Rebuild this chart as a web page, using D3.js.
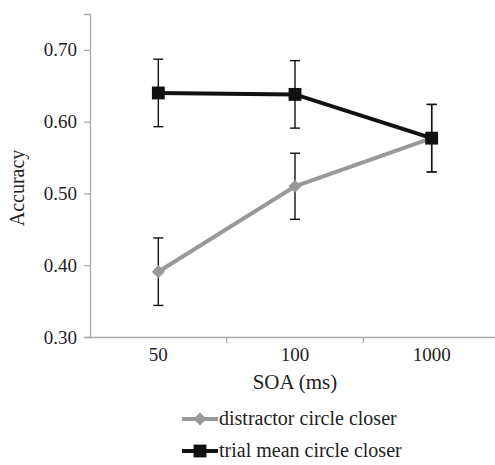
<!DOCTYPE html>
<html>
<head>
<meta charset="utf-8">
<script src="https://cdn.jsdelivr.net/npm/d3@7"></script>
<style>
  body { margin: 0; background: #fff; }
</style>
</head>
<body>
<div id="vis"></div>
<script>
// data
var categories = ["50", "100", "1000"];
var distractor = [0.391, 0.510, 0.577];
var distractorErr = [0.047, 0.046, 0.047];
var trialMean = [0.640, 0.638, 0.577];
var trialMeanErr = [0.047, 0.047, 0.047];
var yTicks = [0.30, 0.40, 0.50, 0.60, 0.70];

var width = 495, height = 465;
var margin = {top: 14, right: -5, bottom: 128, left: 90};
var serif = "'Liberation Serif', 'Times New Roman', Times, serif";

var svg = d3.select("#vis").append("svg")
  .attr("width", width)
  .attr("height", height)
  .attr("font-family", serif);

var x = d3.scaleBand()
  .domain(categories)
  .range([margin.left, width - margin.right])
  .padding(0);

var y = d3.scaleLinear()
  .domain([0.30, 0.75])
  .range([height - margin.bottom, margin.top]);

// y axis
var yAxis = svg.append("g")
  .attr("transform", `translate(${margin.left},0)`)
  .call(d3.axisLeft(y).tickValues(yTicks).tickFormat(d3.format(".2f")).tickSize(6).tickPadding(7));
yAxis.attr("font-family", serif).attr("font-size", 19);
yAxis.select(".domain").attr("stroke", "#aaa").attr("stroke-width", 1.3);
yAxis.selectAll(".tick line").attr("stroke", "#aaa").attr("stroke-width", 1.3);
yAxis.selectAll(".tick text").attr("fill", "#222");

// x axis, ticks between categories
var xAxis = svg.append("g")
  .attr("transform", `translate(0,${y(0.30)})`)
  .call(d3.axisBottom(x).tickSize(0).tickPadding(11).tickSizeOuter(0));
xAxis.attr("font-family", serif).attr("font-size", 19);
xAxis.select(".domain").attr("stroke", "#aaa").attr("stroke-width", 1.3);
xAxis.selectAll(".tick text").attr("fill", "#222");
svg.append("g").selectAll("line")
  .data(categories)
  .join("line")
  .attr("x1", d => x(d) + x.bandwidth())
  .attr("x2", d => x(d) + x.bandwidth())
  .attr("y1", y(0.30))
  .attr("y2", y(0.30) + 6)
  .attr("stroke", "#aaa")
  .attr("stroke-width", 1.3);

// axis titles
svg.append("text")
  .attr("transform", `translate(24,188) rotate(-90)`)
  .attr("text-anchor", "middle")
  .attr("font-size", 20)
  .attr("fill", "#222")
  .text("Accuracy");

svg.append("text")
  .attr("x", x("100") + x.bandwidth() / 2)
  .attr("y", 389)
  .attr("text-anchor", "middle")
  .attr("font-size", 21)
  .attr("fill", "#222")
  .text("SOA (ms)");

var cx = d => x(d) + x.bandwidth() / 2;

function drawSeries(vals, errs, color, marker) {
  var pts = categories.map((c, i) => ({c: c, v: vals[i], e: errs[i]}));

  // error bars
  var eb = svg.append("g").attr("stroke", "#111").attr("stroke-width", 1.4);
  eb.selectAll(".v").data(pts).join("line")
    .attr("x1", d => cx(d.c)).attr("x2", d => cx(d.c))
    .attr("y1", d => y(d.v + d.e)).attr("y2", d => y(d.v - d.e));
  eb.selectAll(".t").data(pts).join("line")
    .attr("x1", d => cx(d.c) - 5).attr("x2", d => cx(d.c) + 5)
    .attr("y1", d => y(d.v + d.e)).attr("y2", d => y(d.v + d.e));
  eb.selectAll(".b").data(pts).join("line")
    .attr("x1", d => cx(d.c) - 5).attr("x2", d => cx(d.c) + 5)
    .attr("y1", d => y(d.v - d.e)).attr("y2", d => y(d.v - d.e));

  svg.append("path")
    .datum(pts)
    .attr("fill", "none")
    .attr("stroke", color)
    .attr("stroke-width", 4)
    .attr("d", d3.line().x(d => cx(d.c)).y(d => y(d.v)));

  svg.append("g").selectAll("path")
    .data(pts)
    .join("path")
    .attr("transform", d => `translate(${cx(d.c)},${y(d.v)})`)
    .attr("d", marker)
    .attr("fill", color);
}

var diamond = d3.symbol().type(d3.symbolDiamond2).size(110)();
var square = d3.symbol().type(d3.symbolSquare).size(165)();

drawSeries(distractor, distractorErr, "#999", diamond);
drawSeries(trialMean, trialMeanErr, "#111", square);

// legend
var legendItems = [
  {label: "distractor circle closer", color: "#999", marker: diamond, y: 419},
  {label: "trial mean circle closer", color: "#111", marker: square, y: 451}
];
var lg = svg.append("g").selectAll("g").data(legendItems).join("g");
lg.append("line")
  .attr("x1", 182).attr("x2", 218)
  .attr("y1", d => d.y).attr("y2", d => d.y)
  .attr("stroke", d => d.color).attr("stroke-width", 4);
lg.append("path")
  .attr("transform", d => `translate(200,${d.y})`)
  .attr("d", d => d.marker)
  .attr("fill", d => d.color);
lg.append("text")
  .attr("x", 219)
  .attr("y", d => d.y + 6)
  .attr("font-size", 20)
  .attr("fill", "#222")
  .text(d => d.label);
</script>
</body>
</html>
